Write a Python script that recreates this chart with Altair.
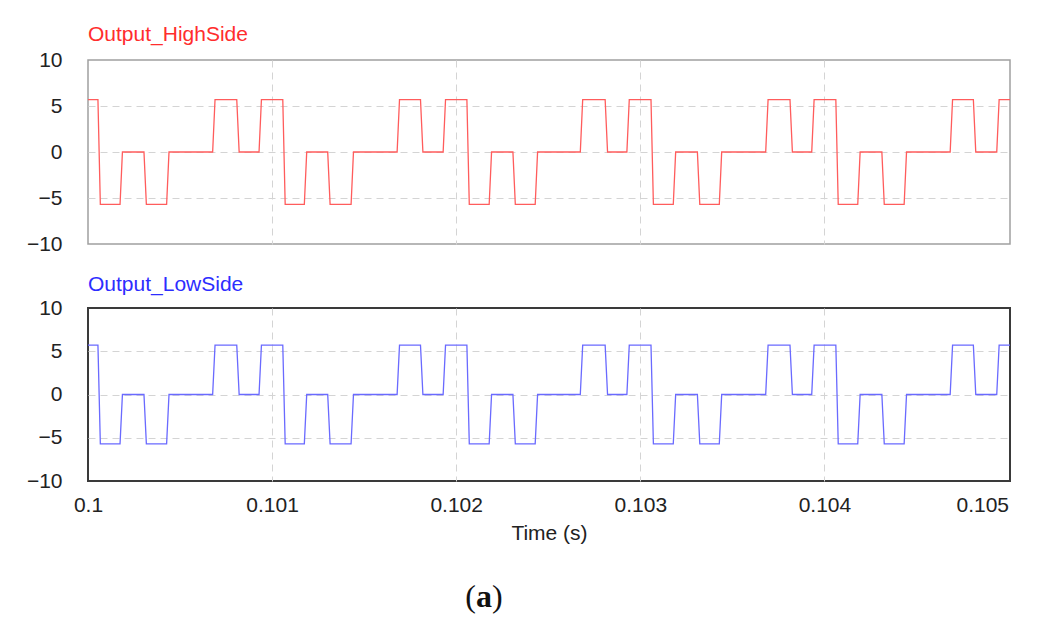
import altair as alt
import pandas as pd

# ---- data ----
x_ticks = [0.1, 0.101, 0.102, 0.103, 0.104, 0.105]
y_ticks = [-10, -5, 0, 5, 10]
x_domain = [0.1, 0.105008]

start_level = 5.7
end_time = 0.105008
ramp = 0.000013

high_edges = [0.100054, 0.100174, 0.100304, 0.100427, 0.100677, 0.100808, 0.100929,
              0.101058, 0.101175, 0.101302, 0.101429, 0.101679, 0.101806, 0.101929,
              0.102058, 0.102179, 0.102308, 0.102429, 0.102674, 0.102809, 0.102927,
              0.103058, 0.103179, 0.103310, 0.103429, 0.103681, 0.103813, 0.103931,
              0.104062, 0.104181, 0.104312, 0.104433, 0.104683, 0.104809, 0.104936]
high_levels = [-5.7, 0, -5.7, 0, 5.7, 0, 5.7,
               -5.7, 0, -5.7, 0, 5.7, 0, 5.7,
               -5.7, 0, -5.7, 0, 5.7, 0, 5.7,
               -5.7, 0, -5.7, 0, 5.7, 0, 5.7,
               -5.7, 0, -5.7, 0, 5.7, 0, 5.7]

low_edges = [0.100054, 0.100174, 0.100304, 0.100427, 0.100677, 0.100808, 0.100929,
             0.101058, 0.101175, 0.101302, 0.101429, 0.101679, 0.101806, 0.101929,
             0.102058, 0.102179, 0.102308, 0.102429, 0.102674, 0.102809, 0.102927,
             0.103058, 0.103179, 0.103310, 0.103429, 0.103681, 0.103813, 0.103931,
             0.104062, 0.104181, 0.104312, 0.104433, 0.104683, 0.104809, 0.104936]
low_levels = [-5.7, 0, -5.7, 0, 5.7, 0, 5.7,
              -5.7, 0, -5.7, 0, 5.7, 0, 5.7,
              -5.7, 0, -5.7, 0, 5.7, 0, 5.7,
              -5.7, 0, -5.7, 0, 5.7, 0, 5.7,
              -5.7, 0, -5.7, 0, 5.7, 0, 5.7]


def build(edges, levels):
    ts, vs = [0.1], [start_level]
    prev = start_level
    for te, lv in zip(edges, levels):
        ts += [te, te + ramp]
        vs += [prev, lv]
        prev = lv
    ts.append(end_time)
    vs.append(prev)
    return pd.DataFrame({"t": ts, "v": vs})


FONT = "Liberation Sans"
FS = 21
GRID = dict(grid=True, gridColor="#d4d4d4", gridDash=[7, 5], gridWidth=1)
X_GRID_OP = alt.ExprRef(expr="(datum.value <= 0.1 || datum.value >= 0.105) ? 0 : 1")
Y_GRID_OP = alt.ExprRef(expr="abs(datum.value) >= 10 ? 0 : 1")


def panel(df, line_color, title, title_color, border, border_w, height, bottom, toff):
    if bottom:
        xaxis = alt.Axis(values=x_ticks, format="~g", title="Time (s)",
                         labelFont=FONT, labelFontSize=FS, labelColor="#222222",
                         labelPadding=13, ticks=False, tickSize=0, domain=False,
                         labelAlign=alt.ExprRef(expr="datum.value > 0.10499 ? 'right' : 'center'"),
                         titleFont=FONT, titleFontSize=FS, titleFontWeight="normal",
                         titleColor="#222222", titlePadding=7,
                         gridOpacity=X_GRID_OP, **GRID)
    else:
        xaxis = alt.Axis(values=x_ticks, labels=False, title=None, ticks=False,
                         tickSize=0, labelPadding=0, domain=False,
                         gridOpacity=X_GRID_OP, **GRID)
    yaxis = alt.Axis(values=y_ticks, title=None, labelFont=FONT, labelFontSize=FS,
                     labelColor="#222222", labelPadding=26, ticks=False, tickSize=0,
                     domain=False, gridOpacity=Y_GRID_OP, **GRID)
    line = alt.Chart(df).mark_line(color=line_color, strokeWidth=1.3).encode(
        x=alt.X("t:Q", scale=alt.Scale(domain=x_domain, nice=False, zero=False), axis=xaxis),
        y=alt.Y("v:Q", scale=alt.Scale(domain=[-10, 10], nice=False), axis=yaxis),
        order="idx:Q",
    ).transform_window(idx="row_number()")
    layers = [line]
    if bottom:
        base = dict(font="Liberation Serif", fontSize=32, baseline="alphabetic", color="#111111")
        layers.append(alt.Chart().mark_text(text="(", align="right", **base).encode(
            x=alt.value(388), y=alt.value(299)))
        layers.append(alt.Chart().mark_text(text="a", align="center", fontWeight="bold", **base).encode(
            x=alt.value(396), y=alt.value(299)))
        layers.append(alt.Chart().mark_text(text=")", align="left", **base).encode(
            x=alt.value(404), y=alt.value(299)))
    return alt.layer(*layers).properties(
        width=922, height=height,
        title=alt.TitleParams(title, anchor="start", frame="group", color=title_color,
                              font=FONT, fontSize=FS, fontWeight="normal", offset=toff),
        view=alt.ViewBackground(stroke=border, strokeWidth=border_w, fill="white"),
    )


top = panel(build(high_edges, high_levels), "#ff5c5c", "Output_HighSide", "#ff2d2d",
            "#a0a0a0", 1.5, 184, False, 4)
bot = panel(build(low_edges, low_levels), "#6a6aff", "Output_LowSide", "#2d2dff",
            "#3a3a3a", 2, 173, True, 2)

chart = alt.vconcat(top, bot, spacing=18).properties(
    padding={"left": 17, "top": 15, "right": 5, "bottom": 5},
    background="white",
)

chart.save("out.html", embed_options={"renderer": "svg", "actions": False})
